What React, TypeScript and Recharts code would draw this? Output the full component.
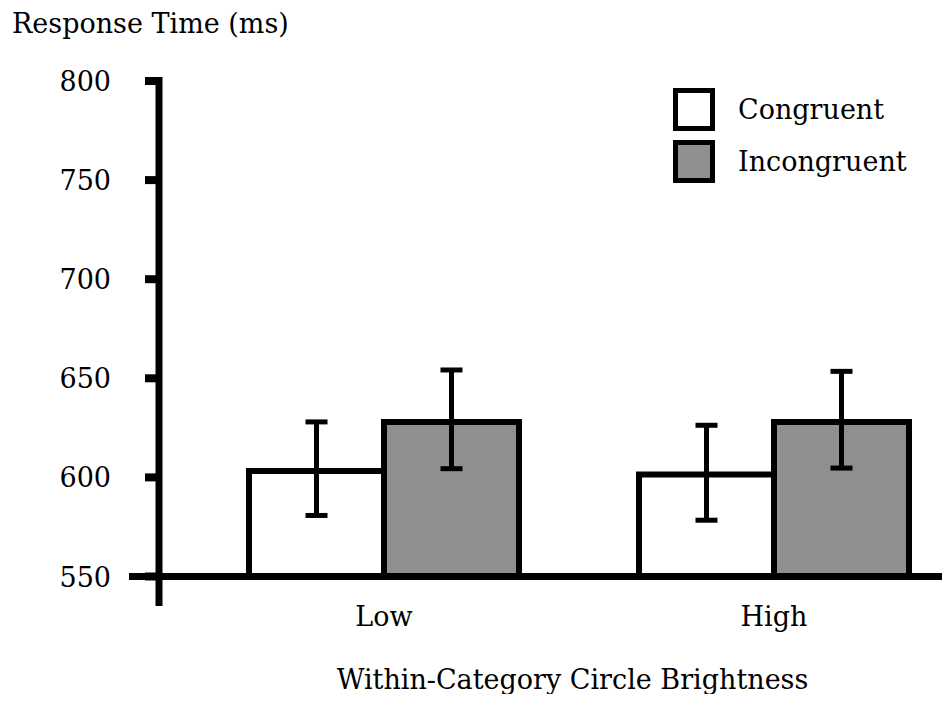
import { BarChart, Bar, XAxis, YAxis, ErrorBar, ReferenceLine, Legend } from 'recharts';

const categories = ['Low', 'High'];
const congruent = [603.2, 601.5];
const incongruent = [628.0, 628.0];
// [minus, plus] offsets read from the whiskers
const congruentErr = [[22.4, 24.8], [23.1, 24.8]];
const incongruentErr = [[23.6, 26.2], [23.3, 25.5]];
const yTicks = [550, 600, 650, 700, 750, 800];

const FONT = 'DejaVu Serif';
const TICK_MARGIN = 34;

const chartData = categories.map((name, i) => ({
  name,
  congruent: congruent[i],
  incongruent: incongruent[i],
  congruentErr: congruentErr[i],
  incongruentErr: incongruentErr[i],
}));

const YTick = (props: any) => {
  const { x, y, payload } = props;
  return (
    <g>
      {payload.value === 550 && (
        <line x1={x + TICK_MARGIN - 16} x2={x + TICK_MARGIN + 14} y1={y} y2={y} stroke="#000" strokeWidth={7} />
      )}
      <text x={x} y={y} dy={10} textAnchor="end" fill="#000" fontSize={27} fontFamily={FONT}>
        {payload.value}
      </text>
    </g>
  );
};

const renderLegend = (props: any) => {
  const { payload } = props;
  return (
    <div>
      {(payload || []).map((entry: any) => (
        <div key={entry.value} style={{ display: 'flex', alignItems: 'center', height: 43, marginBottom: 9 }}>
          <div style={{ width: 32, height: 33, border: '5px solid #000', background: entry.color }} />
          <span style={{ marginLeft: 23, fontFamily: FONT, fontSize: 27, color: '#000' }}>{entry.value}</span>
        </div>
      ))}
    </div>
  );
};

const App = () => {
  return (
    <div style={{ position: 'relative', width: 942, height: 686 }}>
      <BarChart
        width={942}
        height={694}
        data={chartData}
        margin={{ top: 69, right: 0, bottom: 0, left: 0 }}
        barCategoryGap={60}
        barGap={0}
      >
        <XAxis
          dataKey="name"
          height={96}
          padding={{ left: 30, right: -19 }}
          axisLine={false}
          tickLine={false}
          tickSize={0}
          tickMargin={1}
          tick={{ fill: '#000', fontSize: 27, fontFamily: FONT }}
          label={() => (
            <text x={564.5} y={681} textAnchor="middle" fill="#000" fontSize={27} fontFamily={FONT}>
              Within-Category Circle Brightness
            </text>
          )}
        />
        <YAxis
          width={151}
          domain={[550, 800]}
          ticks={yTicks}
          interval={0}
          padding={{ top: 4, bottom: 29.5 }}
          axisLine={{ stroke: '#000', strokeWidth: 7 }}
          tickLine={{ stroke: '#000', strokeWidth: 8 }}
          tickSize={14}
          tickMargin={TICK_MARGIN}
          tick={<YTick />}
          label={() => (
            <text x={4} y={25} textAnchor="start" fill="#000" fontSize={27} fontFamily={FONT}>
              Response Time (ms)
            </text>
          )}
        />
        <ReferenceLine y={550} stroke="#000" strokeWidth={7} />
        <Legend
          layout="horizontal"
          verticalAlign="middle"
          align="center"
          wrapperStyle={{ left: 665, top: 80, width: 'auto', height: 'auto' }}
          content={renderLegend}
        />
        <Bar dataKey="congruent" name="Congruent" fill="#ffffff" stroke="#000" strokeWidth={6} isAnimationActive={false}>
          <ErrorBar dataKey="congruentErr" width={11} stroke="#000" strokeWidth={5} direction="y" isAnimationActive={false} />
        </Bar>
        <Bar dataKey="incongruent" name="Incongruent" fill="#8f8f8f" stroke="#000" strokeWidth={6} isAnimationActive={false}>
          <ErrorBar dataKey="incongruentErr" width={11} stroke="#000" strokeWidth={5} direction="y" isAnimationActive={false} />
        </Bar>
      </BarChart>
    </div>
  );
};

export default App;
